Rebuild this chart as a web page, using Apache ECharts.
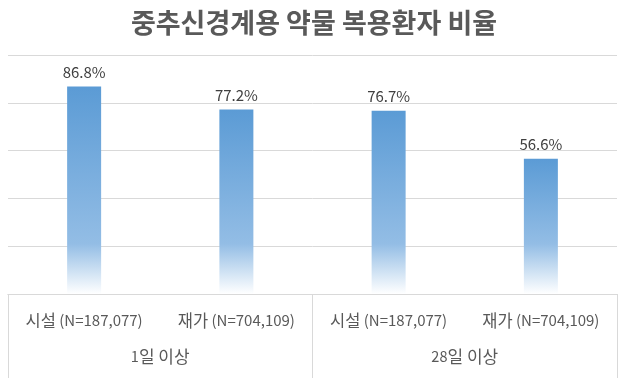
<!DOCTYPE html>
<html>
<head>
<meta charset="utf-8">
<script src="https://cdn.jsdelivr.net/npm/echarts@6/dist/echarts.min.js"></script>
<style>
  html, body { margin: 0; padding: 0; background: #fff; }
  #Chart { width: 628px; height: 378px; }
</style>
</head>
<body>
<div id="Chart"></div>
<script>
// 중추신경계용 약물 복용환자 비율
const groups = ['시설', '재가', '시설', '재가'];
const groupN = ['187,077', '704,109', '187,077', '704,109'];
const periods = ['1일 이상', '28일 이상'];
const rates = [86.8, 77.2, 76.7, 56.6];

const fontKR = '"Noto Sans CJK KR", "Noto Sans", sans-serif';
const gridColor = '#d9d9d9';

// 막대 아래쪽 흰색으로 빠지는 부분
const barData = rates.map(v => {
    const fade = Math.max(0.05, 1 - 21 / v);
    return {
        value: v,
        itemStyle: {
            color: new echarts.graphic.LinearGradient(0, 0, 0, 1, [
                { offset: 0, color: '#5B9BD5' },
                { offset: fade, color: '#93BDE5' },
                { offset: 1, color: '#ffffff' }
            ])
        }
    };
});

const option = {
    backgroundColor: '#ffffff',
    title: {
        text: '중추신경계용 약물 복용환자 비율',
        left: 'center',
        top: 4,
        textStyle: {
            color: '#595959',
            fontSize: 27,
            fontWeight: 'bold',
            fontFamily: fontKR
        }
    },
    grid: {
        left: 8,
        right: 11,
        top: 55,
        bottom: 84
    },
    xAxis: [
        {
            type: 'category',
            data: groups,
            axisLine: { show: true, lineStyle: { color: gridColor } },
            axisTick: { show: false },
            axisLabel: {
                interval: 0,
                hideOverlap: false,
                margin: 18,
                formatter: (v, i) => '{a|' + v + '} {b|(N=' + groupN[i] + ')}',
                rich: {
                    a: { fontSize: 16.5, color: '#595959', fontFamily: fontKR },
                    b: { fontSize: 15, color: '#595959', fontFamily: fontKR }
                }
            }
        },
        {
            type: 'category',
            position: 'bottom',
            data: periods,
            axisLine: { show: true, lineStyle: { color: gridColor } },
            axisTick: { show: true, length: 84, lineStyle: { color: gridColor } },
            axisLabel: {
                margin: 54,
                formatter: v => {
                    const n = v.match(/^\d+/)[0];
                    return '{n|' + n + '}{t|' + v.slice(n.length) + '}';
                },
                rich: {
                    n: { fontSize: 14.5, color: '#595959', fontFamily: fontKR },
                    t: { fontSize: 17, color: '#595959', fontFamily: fontKR }
                }
            }
        }
    ],
    yAxis: {
        type: 'value',
        min: 0,
        max: 100,
        interval: 20,
        axisLine: { show: false },
        axisTick: { show: false },
        axisLabel: { show: false },
        splitLine: { lineStyle: { color: gridColor } }
    },
    series: [
        {
            type: 'bar',
            xAxisIndex: 0,
            barWidth: 34,
            data: barData,
            label: {
                show: true,
                position: 'top',
                distance: 7,
                color: '#404040',
                fontSize: 15,
                fontFamily: fontKR,
                formatter: p => p.value.toFixed(1) + '%'
            }
        }
    ]
};

const myChart = echarts.init(document.getElementById('Chart'));
myChart.setOption(option);
</script>
</body>
</html>
